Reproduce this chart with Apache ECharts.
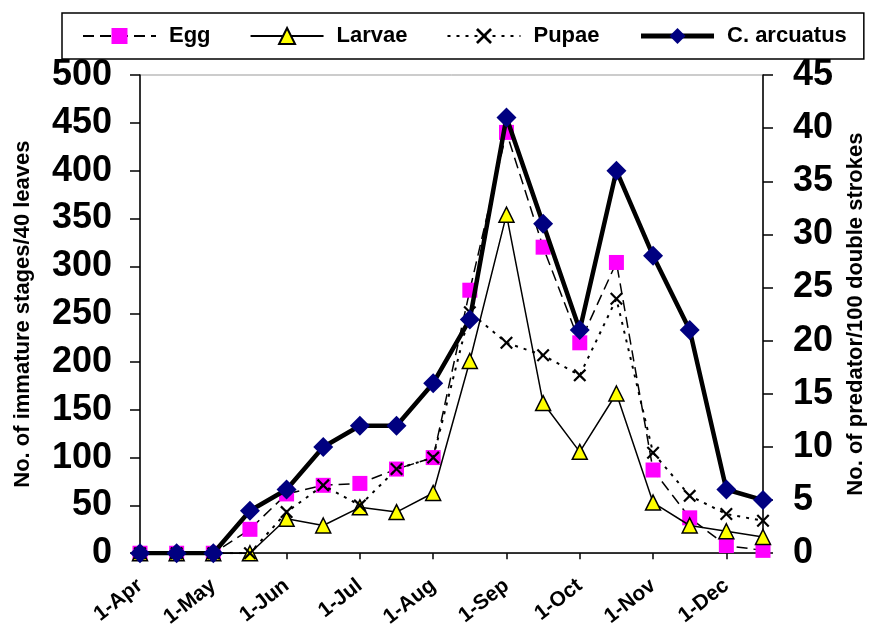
<!DOCTYPE html>
<html>
<head>
<meta charset="utf-8">
<script src="https://cdn.jsdelivr.net/npm/echarts@6/dist/echarts.min.js"></script>
<style>
html,body{margin:0;padding:0;background:#fff;overflow:hidden;}
#chart{width:875px;height:630px;}
</style>
</head>
<body>
<div id="chart"></div>
<script>
const categories = ['1-Apr','15-Apr','1-May','15-May','1-Jun','15-Jun','1-Jul','15-Jul','1-Aug','15-Aug','1-Sep','15-Sep','1-Oct','15-Oct','1-Nov','15-Nov','1-Dec','15-Dec'];
const egg      = [0, 0, 0, 25, 62, 71, 73, 88, 100, 275, 440, 320, 220, 304, 87, 37, 8, 3];
const larvae   = [0, 0, 0, 0, 36, 29, 48, 43, 63, 201, 354, 157, 106, 167, 53, 29, 23, 17];
const pupae    = [0, 0, 0, 0, 43, 71, 50, 88, 100, 252, 220, 207, 186, 266, 105, 60, 41, 34];
const arcuatus = [0, 0, 0, 4, 6, 10, 12, 12, 16, 22, 41, 31, 21, 36, 28, 21, 6, 5];
const leftTicks = {min: 0, max: 500, interval: 50};
const rightTicks = {min: 0, max: 45, interval: 5};

const FONT = '"Liberation Sans", Arial, sans-serif';
const xPath = 'path://M0,1.2 L1.2,0 L5,3.8 L8.8,0 L10,1.2 L6.2,5 L10,8.8 L8.8,10 L5,6.2 L1.2,10 L0,8.8 L3.8,5 Z';

const chart = echarts.init(document.getElementById('chart'), null, {renderer: 'canvas'});
chart.setOption({
  backgroundColor: '#fff',
  animation: false,
  textStyle: {fontFamily: FONT},
  legend: {
    left: 62, top: 13,
    padding: [12, 17, 12, 20],
    borderColor: '#000', borderWidth: 1.5,
    itemWidth: 73, itemHeight: 20, itemGap: 39,
    textStyle: {fontFamily: FONT, fontSize: 22, fontWeight: 'bold', color: '#000', padding: [0, 0, 0, 8]},
    data: [
      {name: 'Egg'},
      {name: 'Larvae'},
      {name: 'Pupae'},
      {name: 'C. arcuatus', lineStyle: {width: 5}}
    ]
  },
  grid: {left: 140, right: 105, top: 75, bottom: 70, show: true, borderColor: '#999', borderWidth: 1, containLabel: false},
  xAxis: {
    type: 'category', data: categories, boundaryGap: false,
    axisLine: {lineStyle: {color: '#000', width: 1.5}},
    axisTick: {interval: 1, length: 6, lineStyle: {color: '#000', width: 1.5}},
    axisLabel: {interval: 1, rotate: 38, margin: 30, fontFamily: FONT, fontSize: 21, fontWeight: 'bold', color: '#000'},
    splitLine: {show: false}
  },
  yAxis: [
    {
      type: 'value', min: leftTicks.min, max: leftTicks.max, interval: leftTicks.interval, position: 'left',
      name: 'No. of immature stages/40 leaves', nameLocation: 'middle', nameRotate: 90, nameGap: 106,
      nameTextStyle: {fontFamily: FONT, fontSize: 22, fontWeight: 'bold', color: '#000'},
      axisLine: {show: true, lineStyle: {color: '#000', width: 1.5}},
      axisTick: {show: true, length: 10, lineStyle: {color: '#000', width: 1.5}},
      axisLabel: {margin: 28, fontFamily: FONT, fontSize: 36, fontWeight: 'bold', color: '#000'},
      splitLine: {show: false}
    },
    {
      type: 'value', min: rightTicks.min, max: rightTicks.max, interval: rightTicks.interval, position: 'right',
      name: 'No. of predator/100 double strokes', nameLocation: 'middle', nameRotate: 90, nameGap: 82,
      nameTextStyle: {fontFamily: FONT, fontSize: 22, fontWeight: 'bold', color: '#000'},
      axisLine: {show: true, lineStyle: {color: '#000', width: 1.5}},
      axisTick: {show: true, length: 10, lineStyle: {color: '#000', width: 1.5}},
      axisLabel: {margin: 30, fontFamily: FONT, fontSize: 36, fontWeight: 'bold', color: '#000'},
      splitLine: {show: false}
    }
  ],
  series: [
    {
      name: 'Egg', type: 'line', data: egg, yAxisIndex: 0, z: 2,
      symbol: 'rect', symbolSize: 15,
      itemStyle: {color: '#FF00FF', borderWidth: 0},
      lineStyle: {color: '#000', width: 1.5, type: [11, 6]}
    },
    {
      name: 'Larvae', type: 'line', data: larvae, yAxisIndex: 0, z: 3,
      symbol: 'triangle', symbolSize: 15,
      itemStyle: {color: '#FFFF00', borderColor: '#000', borderWidth: 1.5},
      lineStyle: {color: '#000', width: 1.5, type: 'solid'}
    },
    {
      name: 'Pupae', type: 'line', data: pupae, yAxisIndex: 0, z: 4,
      symbol: xPath, symbolSize: 13,
      itemStyle: {color: '#000', borderWidth: 0},
      lineStyle: {color: '#000', width: 2, type: [3, 6]}
    },
    {
      name: 'C. arcuatus', type: 'line', data: arcuatus, yAxisIndex: 1, z: 5,
      symbol: 'diamond', symbolSize: 20,
      itemStyle: {color: '#000080', borderWidth: 0},
      lineStyle: {color: '#000', width: 4.5, type: 'solid'}
    }
  ]
});
</script>
</body>
</html>
